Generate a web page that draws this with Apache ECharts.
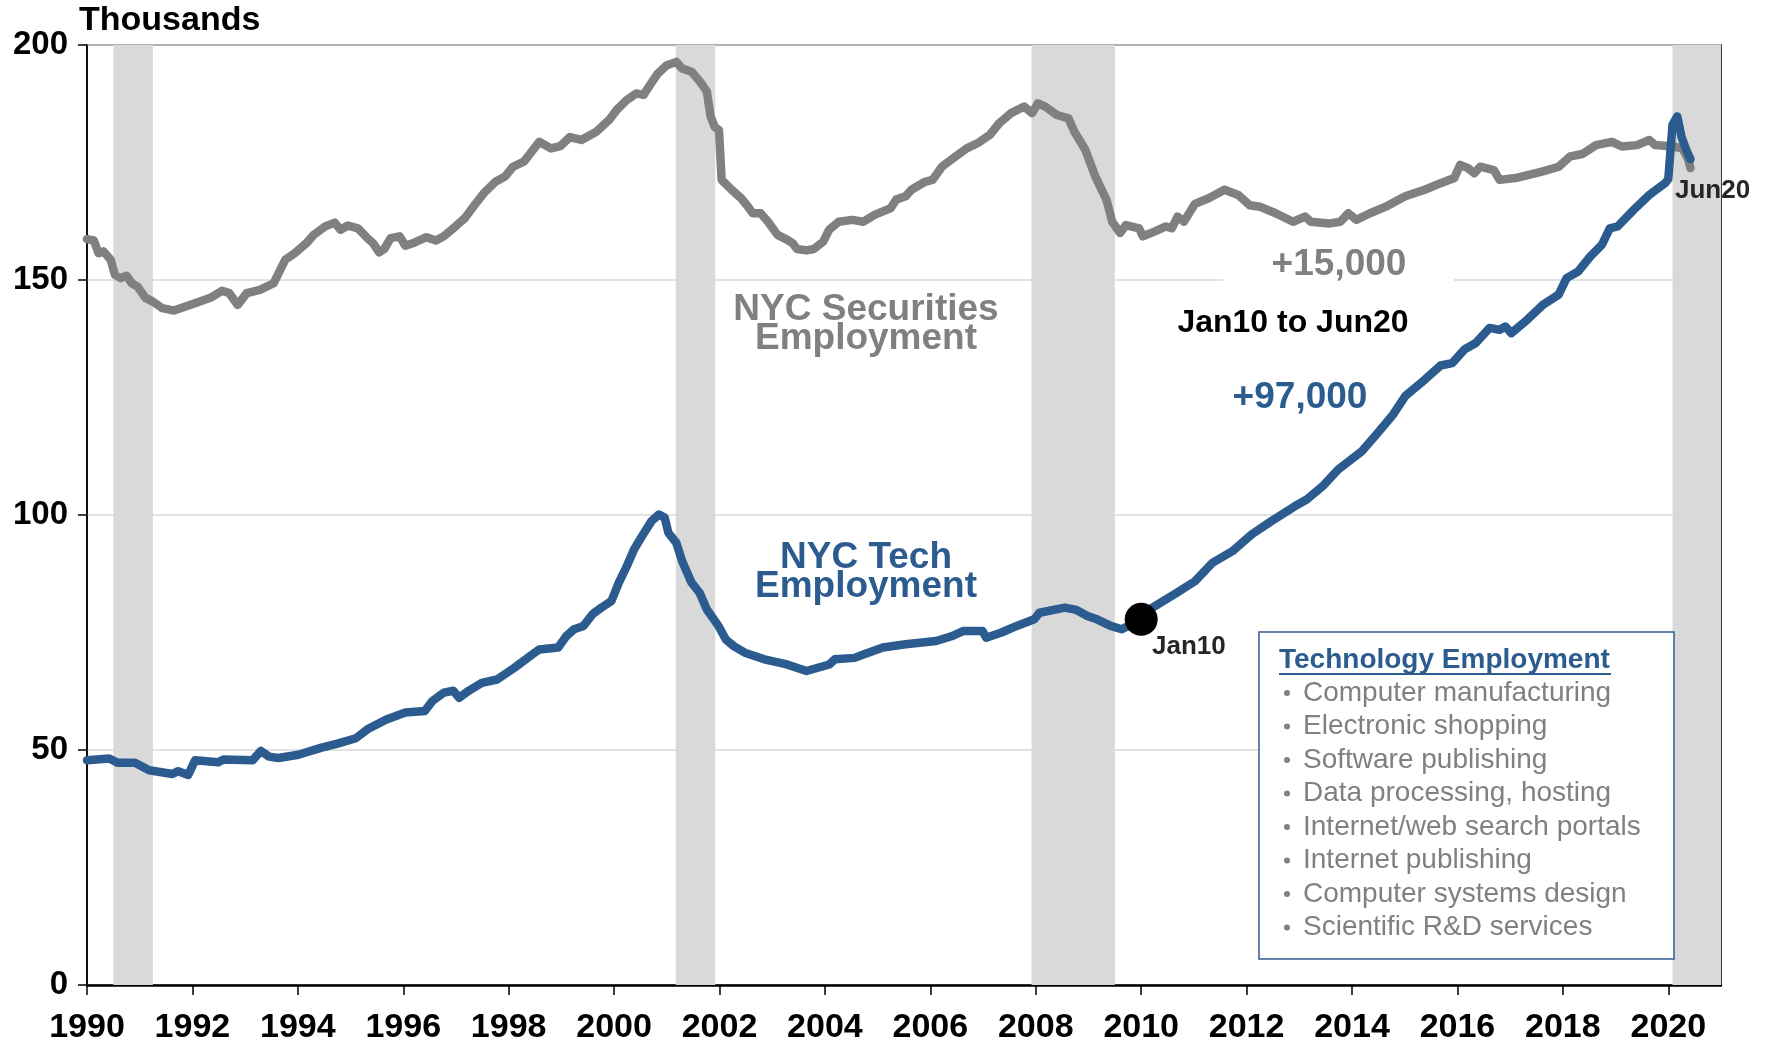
<!DOCTYPE html>
<html>
<head>
<meta charset="utf-8">
<script src="https://cdn.jsdelivr.net/npm/echarts@6/dist/echarts.min.js"></script>
<style>
  html, body { margin: 0; padding: 0; background: #fff; }
  #chart { width: 1767px; height: 1045px; }
</style>
</head>
<body>
<div id="chart"></div>
<script>
// NYC securities employment, thousands (year as decimal, value)
const securities = [
  [1990.00,158.7],[1990.13,158.4],[1990.22,155.7],[1990.31,156.1],[1990.45,154.3],[1990.53,151.1],[1990.64,150.4],[1990.75,150.9],
  [1990.85,149.3],[1990.96,148.6],[1991.11,146.2],[1991.25,145.4],[1991.43,144.0],[1991.65,143.5],[1991.91,144.5],[1992.09,145.2],
  [1992.34,146.2],[1992.56,147.7],[1992.70,147.2],[1992.86,144.7],[1993.03,147.2],[1993.28,147.9],[1993.54,149.3],[1993.76,154.3],
  [1993.94,155.7],[1994.16,157.8],[1994.30,159.6],[1994.52,161.4],[1994.70,162.2],[1994.81,160.7],[1994.95,161.6],[1995.14,161.0],
  [1995.32,158.9],[1995.43,157.8],[1995.54,155.9],[1995.64,156.6],[1995.76,158.9],[1995.93,159.3],[1996.04,157.3],[1996.22,158.0],
  [1996.44,159.1],[1996.62,158.4],[1996.77,159.3],[1996.99,161.4],[1997.17,163.2],[1997.35,165.9],[1997.53,168.5],[1997.75,170.9],
  [1997.93,172.0],[1998.08,174.1],[1998.29,175.2],[1998.58,179.4],[1998.80,178.0],[1998.98,178.5],[1999.16,180.4],[1999.38,179.8],
  [1999.67,181.6],[1999.91,184.1],[2000.05,186.2],[2000.24,188.3],[2000.42,189.7],[2000.56,189.4],[2000.67,191.3],[2000.82,193.8],
  [2001.00,195.7],[2001.18,196.4],[2001.29,195.0],[2001.47,194.3],[2001.65,191.9],[2001.76,190.1],[2001.83,184.8],[2001.91,182.6],
  [2001.99,181.9],[2002.04,171.3],[2002.23,169.2],[2002.41,167.4],[2002.52,165.9],[2002.63,164.2],[2002.78,164.2],[2002.92,162.4],
  [2003.10,159.6],[2003.28,158.6],[2003.39,157.8],[2003.47,156.6],[2003.65,156.3],[2003.79,156.6],[2003.97,158.2],[2004.08,160.7],
  [2004.26,162.4],[2004.52,162.8],[2004.73,162.4],[2004.95,163.9],[2005.25,165.3],[2005.35,167.1],[2005.53,167.8],[2005.64,169.2],
  [2005.90,170.9],[2006.04,171.3],[2006.22,174.1],[2006.48,176.3],[2006.69,178.0],[2006.91,179.2],[2007.13,180.9],[2007.31,183.4],
  [2007.53,185.5],[2007.78,186.9],[2007.93,185.5],[2008.04,187.6],[2008.18,186.9],[2008.40,185.1],[2008.62,184.4],[2008.73,181.6],
  [2008.94,177.7],[2009.13,172.0],[2009.34,167.1],[2009.45,162.4],[2009.60,160.0],[2009.71,161.7],[2009.96,161.0],[2010.03,159.3],
  [2010.25,160.3],[2010.47,161.4],[2010.58,161.0],[2010.69,163.5],[2010.81,162.4],[2011.02,166.2],[2011.28,167.4],[2011.58,169.2],
  [2011.84,168.1],[2012.06,165.9],[2012.25,165.6],[2012.55,164.2],[2012.88,162.4],[2013.11,163.5],[2013.22,162.4],[2013.56,162.0],
  [2013.78,162.4],[2013.93,164.2],[2014.08,162.8],[2014.34,164.2],[2014.64,165.6],[2015.01,167.8],[2015.38,169.2],[2015.68,170.6],
  [2015.94,171.7],[2016.05,174.5],[2016.20,173.8],[2016.32,172.7],[2016.43,174.1],[2016.69,173.4],[2016.80,171.3],[2017.10,171.7],
  [2017.47,172.7],[2017.62,173.1],[2017.92,174.1],[2018.14,176.3],[2018.37,176.8],[2018.63,178.7],[2018.93,179.4],[2019.12,178.4],
  [2019.41,178.7],[2019.64,179.8],[2019.75,178.7],[2020.09,178.4],[2020.27,178.0],[2020.38,175.6],[2020.42,173.8]
];

// NYC tech employment, thousands
const tech = [
  [1990.00,47.8],[1990.42,48.2],[1990.58,47.3],[1990.91,47.3],[1991.18,45.7],[1991.62,44.9],[1991.73,45.5],[1991.92,44.7],
  [1992.05,47.8],[1992.49,47.4],[1992.59,48.0],[1993.14,47.8],[1993.30,49.8],[1993.45,48.6],[1993.63,48.3],[1994.01,49.0],
  [1994.45,50.5],[1994.77,51.4],[1995.10,52.5],[1995.32,54.4],[1995.68,56.5],[1996.04,58.0],[1996.41,58.3],[1996.55,60.4],
  [1996.77,62.2],[1996.95,62.6],[1997.06,61.1],[1997.24,62.6],[1997.49,64.3],[1997.78,65.0],[1998.11,67.5],[1998.36,69.6],
  [1998.58,71.4],[1998.94,71.8],[1999.09,74.2],[1999.24,75.7],[1999.42,76.4],[1999.60,79.0],[1999.75,80.2],[1999.95,81.7],
  [2000.09,85.6],[2000.24,89.1],[2000.38,92.7],[2000.53,95.5],[2000.71,98.7],[2000.85,100.1],[2000.96,99.4],[2001.03,96.2],
  [2001.18,94.1],[2001.29,90.2],[2001.47,85.6],[2001.62,83.5],[2001.76,79.9],[2001.98,76.4],[2002.12,73.5],[2002.27,72.1],
  [2002.48,70.7],[2002.85,69.3],[2003.28,68.2],[2003.65,66.8],[2004.08,68.2],[2004.19,69.3],[2004.56,69.6],[2004.73,70.3],
  [2005.10,71.8],[2005.53,72.5],[2006.11,73.2],[2006.40,74.2],[2006.62,75.3],[2006.99,75.3],[2007.06,73.9],[2007.35,75.0],
  [2007.64,76.4],[2007.97,77.8],[2008.07,79.2],[2008.55,80.3],[2008.77,79.8],[2008.98,78.5],[2009.16,77.8],[2009.42,76.4],
  [2009.63,75.7],[2010.00,77.8],[2010.16,79.9],[2010.68,83.5],[2011.02,85.9],[2011.35,89.8],[2011.73,92.3],[2012.10,95.9],
  [2012.47,98.7],[2012.92,101.9],[2013.14,103.3],[2013.44,106.1],[2013.74,109.7],[2014.19,113.6],[2014.49,117.5],[2014.78,121.4],
  [2015.01,125.3],[2015.38,128.8],[2015.68,131.8],[2015.90,132.3],[2016.13,135.2],[2016.35,136.6],[2016.61,139.8],[2016.80,139.4],
  [2016.91,140.1],[2017.02,138.7],[2017.32,141.5],[2017.62,144.7],[2017.92,146.9],[2018.07,150.4],[2018.29,151.8],[2018.52,155.0],
  [2018.74,157.5],[2018.89,161.0],[2019.04,161.4],[2019.34,164.9],[2019.64,168.1],[2019.94,170.6],[2020.00,171.5],[2020.08,183.0],
  [2020.17,184.8],[2020.25,180.5],[2020.33,178.0],[2020.42,175.7]
];

const jan10Point = [2010.00, 77.8];

const recessionStart = [1990.5, 2001.17, 2007.92, 2020.08];
const recessionEnd = [1991.25, 2001.92, 2009.5, 2021];

const xTickYears = [1990,1992,1994,1996,1998,2000,2002,2004,2006,2008,2010,2012,2014,2016,2018,2020];

const boxTitle = 'Technology Employment';
const boxItems = [
  'Computer manufacturing',
  'Electronic shopping',
  'Software publishing',
  'Data processing, hosting',
  'Internet/web search portals',
  'Internet publishing',
  'Computer systems design',
  'Scientific R&D services'
];

const BLUE = '#2C5C8F';
const GRAY = '#808080';
const FONT = '"Liberation Sans", Arial, sans-serif';

const chart = echarts.init(document.getElementById('chart'));

const graphics = [
  { type: 'text', x: 79, y: 21, z: 20,
    style: { text: 'Thousands', font: 'bold 34px ' + FONT, fill: '#000', textVerticalAlign: 'middle' } },
  // white box behind the change labels
  { type: 'rect', shape: { x: 1223, y: 240, width: 231, height: 100 }, z: 5,
    style: { fill: '#fff' } },
  { type: 'text', x: 1339, y: 265, z: 20,
    style: { text: '+15,000', font: 'bold 37px ' + FONT, fill: GRAY, textAlign: 'center', textVerticalAlign: 'middle' } },
  { type: 'text', x: 1293, y: 323, z: 20,
    style: { text: 'Jan10 to Jun20', font: 'bold 32px ' + FONT, fill: '#000', textAlign: 'center', textVerticalAlign: 'middle' } },
  { type: 'text', x: 1300, y: 398, z: 20,
    style: { text: '+97,000', font: 'bold 37px ' + FONT, fill: BLUE, textAlign: 'center', textVerticalAlign: 'middle' } },
  { type: 'text', x: 866, y: 310, z: 20,
    style: { text: 'NYC Securities', font: 'bold 37px ' + FONT, fill: GRAY, textAlign: 'center', textVerticalAlign: 'middle' } },
  { type: 'text', x: 866, y: 339, z: 20,
    style: { text: 'Employment', font: 'bold 37px ' + FONT, fill: GRAY, textAlign: 'center', textVerticalAlign: 'middle' } },
  { type: 'text', x: 866, y: 558, z: 20,
    style: { text: 'NYC Tech', font: 'bold 37px ' + FONT, fill: BLUE, textAlign: 'center', textVerticalAlign: 'middle' } },
  { type: 'text', x: 866, y: 587, z: 20,
    style: { text: 'Employment', font: 'bold 37px ' + FONT, fill: BLUE, textAlign: 'center', textVerticalAlign: 'middle' } },
  { type: 'text', x: 1152, y: 647, z: 20,
    style: { text: 'Jan10', font: 'bold 26px ' + FONT, fill: '#262626', textVerticalAlign: 'middle' } },
  { type: 'text', x: 1675, y: 191, z: 20,
    style: { text: 'Jun20', font: 'bold 26px ' + FONT, fill: '#262626', textVerticalAlign: 'middle' } },
  // technology box
  { type: 'rect', shape: { x: 1259, y: 632, width: 415, height: 327 }, z: 15,
    style: { fill: '#fff', stroke: BLUE, lineWidth: 1.5 } },
  { type: 'text', x: 1279, y: 660, z: 20,
    style: { text: boxTitle, font: 'bold 28px ' + FONT, fill: BLUE, textVerticalAlign: 'middle' } },
  { type: 'line', shape: { x1: 1279, y1: 674, x2: 1611, y2: 674 }, z: 20,
    style: { stroke: BLUE, lineWidth: 2 } }
];

boxItems.forEach((item, i) => {
  const y = 693 + i * 33.5;
  graphics.push({ type: 'circle', shape: { cx: 1287, cy: y, r: 3 }, z: 20, style: { fill: GRAY } });
  graphics.push({ type: 'text', x: 1303, y: y, z: 20,
    style: { text: item, font: '28px ' + FONT, fill: GRAY, textVerticalAlign: 'middle' } });
});

chart.setOption({
  animation: false,
  backgroundColor: '#fff',
  grid: {
    left: 87, right: 46, top: 45, bottom: 59,
    show: true, borderColor: '#000', borderWidth: 1.5, backgroundColor: 'transparent'
  },
  xAxis: {
    type: 'value',
    min: 1990, max: 2021, interval: 2,
    axisLine: { show: true, lineStyle: { color: '#000', width: 2.5 } },
    axisTick: { show: true, length: 10, inside: false, customValues: xTickYears, lineStyle: { color: '#000', width: 1.5 } },
    axisLabel: {
      customValues: xTickYears,
      margin: 26,
      color: '#000',
      fontFamily: FONT, fontWeight: 'bold', fontSize: 34,
      formatter: v => (v <= 2020 ? String(v) : '')
    },
    splitLine: { show: false }
  },
  yAxis: {
    type: 'value',
    min: 0, max: 200, interval: 50,
    axisLine: { show: true, lineStyle: { color: '#000', width: 1.5 } },
    axisTick: { show: true, length: 9, inside: false, lineStyle: { color: '#000', width: 1.5 } },
    axisLabel: {
      margin: 19, color: '#000',
      fontFamily: FONT, fontWeight: 'bold', fontSize: 33
    },
    splitLine: {
      show: true,
      lineStyle: { color: '#D9D9D9', width: 1.5 }
    }
  },
  series: [
    {
      name: 'recessions',
      type: 'line',
      data: [],
      z: 1,
      silent: true,
      markArea: {
        silent: true,
        itemStyle: { color: '#D9D9D9', opacity: 1 },
        data: recessionStart.map((s, i) => [{ xAxis: s }, { xAxis: recessionEnd[i] }])
      }
    },
    {
      name: 'NYC Securities Employment',
      type: 'line',
      data: securities,
      z: 3,
      symbol: 'none',
      smooth: false,
      lineStyle: { color: GRAY, width: 8.5, cap: 'round', join: 'round' }
    },
    {
      name: 'NYC Tech Employment',
      type: 'line',
      data: tech,
      z: 4,
      symbol: 'none',
      smooth: false,
      lineStyle: { color: BLUE, width: 8.5, cap: 'round', join: 'round' }
    },
    {
      name: 'Jan10',
      type: 'scatter',
      data: [jan10Point],
      z: 6,
      symbol: 'circle',
      symbolSize: 33,
      itemStyle: { color: '#000', opacity: 1 }
    }
  ],
  graphic: graphics
});
</script>
</body>
</html>
